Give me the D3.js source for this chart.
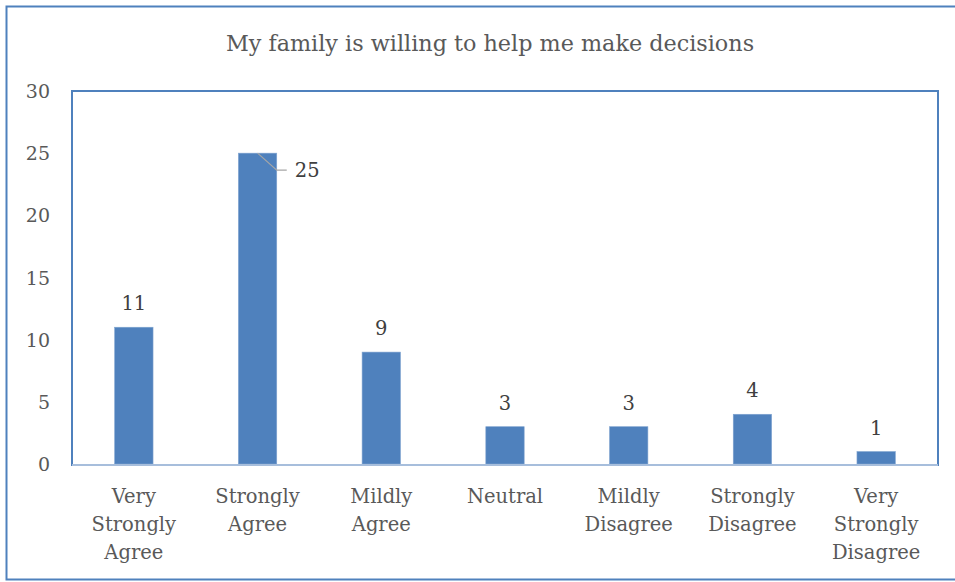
<!DOCTYPE html>
<html>
<head>
<meta charset="utf-8">
<script src="https://cdn.jsdelivr.net/npm/d3@7"></script>
<style>
  html, body { margin: 0; padding: 0; background: #fff; }
  svg { display: block; }
  text { font-family: "DejaVu Serif", "Liberation Serif", serif; }
</style>
</head>
<body>
<svg id="chart" width="955" height="582"></svg>
<script>
// Survey responses: "My family is willing to help me make decisions"
const chartTitle = "My family is willing to help me make decisions";
const categories = [
  "Very Strongly Agree",
  "Strongly Agree",
  "Mildly Agree",
  "Neutral",
  "Mildly Disagree",
  "Strongly Disagree",
  "Very Strongly Disagree"
];
// Category labels broken into display lines
const categoryLines = [
  ["Very", "Strongly", "Agree"],
  ["Strongly", "Agree"],
  ["Mildly", "Agree"],
  ["Neutral"],
  ["Mildly", "Disagree"],
  ["Strongly", "Disagree"],
  ["Very", "Strongly", "Disagree"]
];
const counts = [11, 25, 9, 3, 3, 4, 1];
const yTicks = [0, 5, 10, 15, 20, 25, 30];

const svg = d3.select("#chart");
const W = 955, H = 582;
const plot = { left: 72, top: 91, right: 938, bottom: 464 };

const barColor = "#4F81BD";
const frameColor = "#4F81BD";
const textColor = "#595959";
const labelColor = "#404040";

// Outer chart frame (runs off the right edge)
svg.append("rect")
  .attr("x", 6.5).attr("y", 6.5)
  .attr("width", W + 10).attr("height", 573)
  .attr("fill", "#fff")
  .attr("stroke", frameColor).attr("stroke-width", 2);

const x = d3.scaleBand()
  .domain(categories)
  .range([plot.left, plot.right])
  .paddingInner(0.69)
  .paddingOuter(0.345);

const y = d3.scaleLinear()
  .domain([0, 30])
  .range([plot.bottom, plot.top]);

// Title
svg.append("text")
  .attr("x", 490).attr("y", 51)
  .attr("text-anchor", "middle")
  .attr("font-size", 22.3)
  .attr("fill", textColor)
  .text(chartTitle);

// Plot area border
svg.append("rect")
  .attr("x", plot.left).attr("y", plot.top)
  .attr("width", plot.right - plot.left).attr("height", plot.bottom - plot.top + 1)
  .attr("fill", "none")
  .attr("stroke", frameColor).attr("stroke-width", 2);

// Y axis tick labels
const yAxis = d3.axisLeft(y).tickValues(yTicks).tickSize(0).tickPadding(0).tickFormat(d3.format("d"));
const yg = svg.append("g").attr("transform", `translate(50,0)`).call(yAxis);
yg.select(".domain").remove();
yg.selectAll("text")
  .attr("font-family", "DejaVu Serif, Liberation Serif, serif")
  .attr("font-size", 19)
  .attr("fill", textColor)
  .attr("dy", "0.35em");

// Bars
svg.append("g").selectAll("rect")
  .data(categories)
  .join("rect")
  .attr("x", d => x(d))
  .attr("y", (d, i) => y(counts[i]))
  .attr("width", x.bandwidth())
  .attr("height", (d, i) => y(0) - y(counts[i]))
  .attr("fill", barColor)
  .attr("stroke", "#7FA3CF").attr("stroke-width", 0.6);

// Category axis line along the baseline
const xAxis = d3.axisBottom(x).tickSize(0).tickFormat("");
const xg = svg.append("g").attr("transform", `translate(0,${plot.bottom + 1})`).call(xAxis);
xg.select(".domain").attr("stroke", "#A7BEDC").attr("stroke-width", 2)
  .attr("d", `M${plot.left},0H${plot.right}`);

// Category labels
const catG = svg.append("g");
categories.forEach((c, i) => {
  const cx = x(c) + x.bandwidth() / 2;
  const t = catG.append("text")
    .attr("x", cx).attr("y", 503)
    .attr("text-anchor", "middle")
    .attr("font-size", 19.5)
    .attr("fill", textColor);
  categoryLines[i].forEach((line, j) => {
    t.append("tspan").attr("x", cx).attr("dy", j === 0 ? 0 : 28).text(line);
  });
});

// Data labels
const labelG = svg.append("g");
categories.forEach((c, i) => {
  const cx = x(c) + x.bandwidth() / 2;
  const v = counts[i];
  if (v === d3.max(counts)) {
    // Largest value: label placed to the right with a leader line
    const top = y(v);
    const right = x(c) + x.bandwidth();
    labelG.append("path")
      .attr("d", `M${cx},${top}L${right},${top + 17}H${right + 10}`)
      .attr("fill", "none")
      .attr("stroke", "#A6A6A6").attr("stroke-width", 1.2);
    labelG.append("text")
      .attr("x", right + 18).attr("y", top + 17)
      .attr("dy", "0.35em")
      .attr("font-size", 19.5)
      .attr("fill", labelColor)
      .text(v);
  } else {
    labelG.append("text")
      .attr("x", cx).attr("y", y(v) - 17)
      .attr("text-anchor", "middle")
      .attr("font-size", 19.5)
      .attr("fill", labelColor)
      .text(v);
  }
});
</script>
</body>
</html>
